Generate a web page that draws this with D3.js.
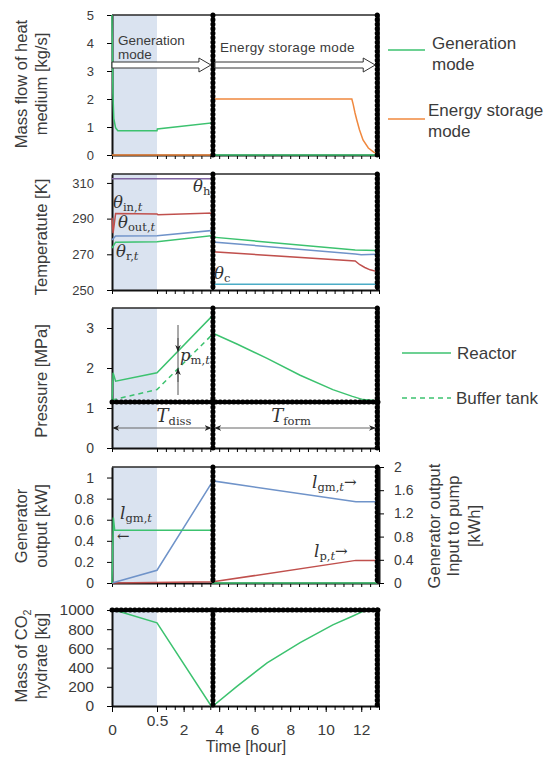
<!DOCTYPE html>
<html>
<head>
<meta charset="utf-8">
<script src="https://cdn.jsdelivr.net/npm/d3@7"></script>
<style>
body { margin: 0; background: #fff; }
svg text { font-family: 'Liberation Sans', Arial, sans-serif; fill: #3b3b3b; }
svg text.math { font-family: 'DejaVu Serif', 'Liberation Serif', serif; fill: #333; }
</style>
</head>
<body>
<svg id="chart" width="548" height="758"></svg>
<script>
// time axis [hour]
const hourTicks = [0, 0.5, 2, 4, 6, 8, 10, 12]
const genEnd = 3.65
const cycleEnd = 12.9

// mass flow of heat medium [kg/s]
const flowGenT = [0, 0.01, 0.02, 0.04, 0.065, 0.5, 0.52, 3.65, 3.65, 12.9]
const flowGenV = [5, 2.2, 1.3, 0.97, 0.87, 0.87, 0.93, 1.15, 0, 0]
const flowStoT = [0, 3.65, 3.65, 11.47, 11.55, 11.65, 11.75, 11.9, 12.1, 12.4, 12.7, 12.9]
const flowStoV = [0, 0, 2, 2, 1.8, 1.5, 1.25, 0.9, 0.54, 0.25, 0.1, 0.05]
const flowTicks = [0, 1, 2, 3, 4, 5]

// temperature [K]
const thetaHT = [0, 3.65]
const thetaHV = [312.3, 312.3]
const thetaInT = [0, 0.012, 0.04, 0.5, 0.55, 3.65, 3.65, 11.66, 11.9, 12.2, 12.5, 12.9]
const thetaInV = [290.5, 281.8, 292.8, 292.6, 292.2, 293.2, 271.4, 266.3, 264.3, 262.6, 261.3, 260.3]
const thetaOutT = [0, 0.04, 0.5, 3.65, 3.65, 11.66, 12.0, 12.9]
const thetaOutV = [278, 280.3, 280.4, 283.4, 276.9, 270.2, 269.8, 270]
const thetaRT = [0, 0.04, 0.5, 3.65, 3.65, 11.66, 12.9]
const thetaRV = [273.4, 276.8, 277, 280.5, 279.6, 272.4, 272.2]
const thetaCT = [3.65, 12.9]
const thetaCV = [253.2, 253.2]
const tempTicks = [250, 270, 290, 310]

// pressure [MPa]
const reactorT = [0, 0.012, 0.04, 0.5, 3.65, 3.65, 5, 6.7, 8.56, 10.4, 11.5, 12.1, 12.9]
const reactorV = [1.15, 1.88, 1.67, 1.88, 3.32, 2.87, 2.6, 2.24, 1.82, 1.46, 1.29, 1.21, 1.18]
const bufferT = [0, 0.5, 3.6]
const bufferV = [1.2, 1.46, 2.83]
const baseP = 1.15
const pressTicks = [0, 1, 2, 3]

// generator output [kW] (left) and energy [kWh] (right)
const genKwT = [0, 0.015, 0.03, 3.65, 3.65, 12.9]
const genKwV = [0, 0.62, 0.5, 0.5, 0, 0]
const lgmT = [0, 0.5, 3.65, 11.7, 12.9]
const lgmV = [0, 0.22, 1.76, 1.4, 1.4]
const lpT = [0, 3.65, 11.7, 12.9]
const lpV = [0, 0.02, 0.39, 0.39]
const kwTicks = [0, 0.2, 0.4, 0.6, 0.8, 1]
const kwhTicks = [0, 0.4, 0.8, 1.2, 1.6, 2]

// mass of CO2 hydrate [kg]
const massT = [0, 0.1, 0.5, 3.55, 3.65, 5, 6.7, 8.56, 10.4, 11.5, 12.1, 12.4, 12.9]
const massV = [1000, 980, 867, 0, 0, 205, 450, 660, 845, 935, 985, 1000, 1000]
const massTicks = [0, 200, 400, 600, 800, 1000]

const green = '#3cc26f'
const orange = '#f0883e'
const blue = '#6f93c9'
const red = '#c0504d'
const purple = '#8064a2'
const cyan = '#4bacc6'

const svg = d3.select('#chart')
const x = d3.scaleLinear().domain([0, 0.5, 13]).range([112, 157, 379])
const minorTicks = [0].concat(d3.range(1, 27).map(i => i * 0.5))

function panel (top, bottom, domain, ticks, fontSize) {
  const g = svg.append('g')
  const y = d3.scaleLinear().domain(domain).range([bottom, top])

  g.append('rect')
    .attr('x', x(0)).attr('y', top)
    .attr('width', x(0.5) - x(0)).attr('height', bottom - top)
    .attr('fill', '#dae3f0')

  g.append('path')
    .attr('d', 'M' + x(0) + ',' + top + 'H' + x(13) + 'V' + bottom)
    .attr('fill', 'none').attr('stroke', '#2a2a2a').attr('stroke-width', 1.6)

  const ax = g.append('g')
    .attr('transform', 'translate(' + x(0) + ',0)')
    .call(d3.axisLeft(y).tickValues(ticks).tickSize(5).tickSizeOuter(0).tickPadding(13).tickFormat(d3.format('')))
  ax.select('.domain').attr('stroke', '#111').attr('stroke-width', 2)
  ax.selectAll('text').attr('font-size', fontSize)

  const bx = g.append('g')
    .attr('transform', 'translate(0,' + bottom + ')')
    .call(d3.axisBottom(x).tickValues(minorTicks).tickSize(4).tickSizeOuter(0).tickFormat(''))
  bx.select('.domain').attr('stroke', '#111').attr('stroke-width', 2)

  return { g: g, y: y, top: top, bottom: bottom }
}

function series (p, y, ts, vs, color, dash) {
  const line = d3.line().x(d => x(d[0])).y(d => y(d[1]))
  p.g.append('path')
    .datum(d3.zip(ts, vs))
    .attr('d', line)
    .attr('fill', 'none')
    .attr('stroke', color)
    .attr('stroke-width', 1.5)
    .attr('stroke-dasharray', dash || null)
}

// thick beaded boundary line
function bead (g, x1, y1, x2, y2) {
  g.append('line').attr('x1', x1).attr('y1', y1).attr('x2', x2).attr('y2', y2)
    .attr('stroke', '#000').attr('stroke-width', 2.5)
  g.append('line').attr('x1', x1).attr('y1', y1).attr('x2', x2).attr('y2', y2)
    .attr('stroke', '#000').attr('stroke-width', 5)
    .attr('stroke-linecap', 'round').attr('stroke-dasharray', '0.5,4')
}

function modeLines (p) {
  bead(p.g, x(genEnd), p.top, x(genEnd), p.bottom)
  bead(p.g, x(cycleEnd), p.top, x(cycleEnd), p.bottom)
}

function yTitle (lines, xs, cy, size) {
  lines.forEach((t, i) => {
    const txt = svg.append('text')
      .attr('transform', 'translate(' + xs[i] + ',' + cy + ') rotate(-90)')
      .attr('text-anchor', 'middle')
      .attr('dy', '0.35em')
      .attr('font-size', size)
    if (Array.isArray(t)) {
      txt.append('tspan').text(t[0])
      txt.append('tspan').attr('font-size', size * 0.65).attr('dy', '0.35em').text(t[1])
      txt.append('tspan').attr('dy', '-0.23em').text(t[2])
    } else {
      txt.text(t)
    }
  })
}

// symbol with subscript, parts: [main, sub upright, sub italic, suffix]
function mathLabel (g, px, py, main, subUp, subIt, suffix, anchor) {
  const t = g.append('text').attr('class', 'math')
    .attr('x', px).attr('y', py).attr('font-size', 16.5)
    .attr('text-anchor', anchor || 'start')
  t.append('tspan').attr('font-style', 'italic').text(main)
  t.append('tspan').attr('font-size', 11.5).attr('dy', '0.3em').text(subUp)
  if (subIt) t.append('tspan').attr('font-size', 11.5).attr('font-style', 'italic').text(subIt)
  if (suffix) t.append('tspan').attr('dy', '-0.3em').attr('font-size', 15).text(suffix)
  return t
}

function blockArrow (g, x0, x1, yc) {
  const h = 3, hh = 7, hl = 12
  g.append('path')
    .attr('d', 'M' + x0 + ',' + (yc - h) + 'H' + (x1 - hl) + 'V' + (yc - hh) + 'L' + x1 + ',' + yc +
      'L' + (x1 - hl) + ',' + (yc + hh) + 'V' + (yc + h) + 'H' + x0 + 'Z')
    .attr('fill', '#fff').attr('stroke', '#333').attr('stroke-width', 1)
}

// ---------- panel 1: mass flow ----------
const p1 = panel(15, 155, [0, 5], flowTicks, 13)
series(p1, p1.y, flowStoT, flowStoV, orange)
series(p1, p1.y, flowGenT, flowGenV, green)
modeLines(p1)
blockArrow(p1.g, x(0), x(genEnd) - 2, 65)
blockArrow(p1.g, x(genEnd) + 2, x(cycleEnd) - 2, 65)
p1.g.append('text').attr('x', 118).attr('y', 45).attr('font-size', 13.5).text('Generation')
p1.g.append('text').attr('x', 118).attr('y', 59).attr('font-size', 13.5).text('mode')
p1.g.append('text').attr('x', 220).attr('y', 52).attr('font-size', 13.5).attr('letter-spacing', 0.3).text('Energy storage mode')
yTitle(['Mass flow of heat', 'medium [kg/s]'], [21, 41], 84, 16.5)

const leg1 = svg.append('g')
leg1.append('line').attr('x1', 388).attr('x2', 425).attr('y1', 50).attr('y2', 50).attr('stroke', green).attr('stroke-width', 1.5)
leg1.append('text').attr('x', 432).attr('y', 49).attr('font-size', 17).text('Generation')
leg1.append('text').attr('x', 432).attr('y', 70).attr('font-size', 17).text('mode')
leg1.append('line').attr('x1', 388).attr('x2', 425).attr('y1', 119).attr('y2', 119).attr('stroke', orange).attr('stroke-width', 1.5)
leg1.append('text').attr('x', 428).attr('y', 116).attr('font-size', 17).text('Energy storage')
leg1.append('text').attr('x', 428).attr('y', 137).attr('font-size', 17).text('mode')

// ---------- panel 2: temperature ----------
const p2 = panel(174, 290, [250, 315], tempTicks, 13)
series(p2, p2.y, thetaHT, thetaHV, purple)
series(p2, p2.y, thetaCT, thetaCV, cyan)
series(p2, p2.y, thetaInT, thetaInV, red)
series(p2, p2.y, thetaOutT, thetaOutV, blue)
series(p2, p2.y, thetaRT, thetaRV, green)
modeLines(p2)
mathLabel(p2.g, 193, 192, 'θ', 'h')
mathLabel(p2.g, 113, 208, 'θ', 'in,', 't')
mathLabel(p2.g, 118, 228, 'θ', 'out,', 't')
mathLabel(p2.g, 116, 257, 'θ', 'r,', 't')
mathLabel(p2.g, 214, 279, 'θ', 'c')
yTitle(['Temperatute [K]'], [41], 237, 16.5)

// ---------- panel 3: pressure ----------
const p3 = panel(308, 448, [0, 3.5], pressTicks, 14)
series(p3, p3.y, bufferT, bufferV, green, '5,4')
series(p3, p3.y, reactorT, reactorV, green)
modeLines(p3)
bead(p3.g, x(0), p3.y(baseP), x(13), p3.y(baseP))

const defs = svg.append('defs')
defs.append('marker').attr('id', 'head').attr('viewBox', '0 0 10 10')
  .attr('refX', 9).attr('refY', 5).attr('markerWidth', 7).attr('markerHeight', 7)
  .attr('orient', 'auto-start-reverse')
  .append('path').attr('d', 'M0,1L10,5L0,9L3,5Z').attr('fill', '#222')

const pmX = 178
p3.g.append('line').attr('x1', pmX).attr('x2', pmX).attr('y1', 325).attr('y2', 395)
  .attr('stroke', '#555').attr('stroke-width', 1)
p3.g.append('line').attr('x1', pmX).attr('x2', pmX).attr('y1', 338).attr('y2', p3.y(2.42))
  .attr('stroke', '#555').attr('stroke-width', 1).attr('marker-end', 'url(#head)')
p3.g.append('line').attr('x1', pmX).attr('x2', pmX).attr('y1', 382).attr('y2', p3.y(1.98))
  .attr('stroke', '#555').attr('stroke-width', 1).attr('marker-end', 'url(#head)')
mathLabel(p3.g, 180, 361, 'p', 'm,', 't')

const arrowY = 428
p3.g.append('line').attr('x1', x(0) + 1).attr('x2', x(genEnd) - 2).attr('y1', arrowY).attr('y2', arrowY)
  .attr('stroke', '#666').attr('stroke-width', 1)
  .attr('marker-start', 'url(#head)').attr('marker-end', 'url(#head)')
p3.g.append('line').attr('x1', x(genEnd) + 2).attr('x2', x(cycleEnd) - 2).attr('y1', arrowY).attr('y2', arrowY)
  .attr('stroke', '#666').attr('stroke-width', 1)
  .attr('marker-start', 'url(#head)').attr('marker-end', 'url(#head)')
mathLabel(p3.g, 174, 422, 'T', 'diss', null, null, 'middle').attr('font-size', 18)
mathLabel(p3.g, 291, 422, 'T', 'form', null, null, 'middle').attr('font-size', 18)
yTitle(['Pressure [MPa]'], [41], 381, 16.5)

const leg3 = svg.append('g')
leg3.append('line').attr('x1', 402).attr('x2', 451).attr('y1', 353).attr('y2', 353).attr('stroke', green).attr('stroke-width', 1.5)
leg3.append('text').attr('x', 457).attr('y', 359).attr('font-size', 17).text('Reactor')
leg3.append('line').attr('x1', 402).attr('x2', 451).attr('y1', 398).attr('y2', 398).attr('stroke', green).attr('stroke-width', 1.5).attr('stroke-dasharray', '5,4')
leg3.append('text').attr('x', 456).attr('y', 404).attr('font-size', 17).text('Buffer tank')

// ---------- panel 4: generator output ----------
const p4 = panel(467, 583, [0, 1.1], kwTicks, 14)
const y4r = d3.scaleLinear().domain([0, 2]).range([583, 467])
series(p4, y4r, lpT, lpV, red)
series(p4, y4r, lgmT, lgmV, blue)
series(p4, p4.y, genKwT, genKwV, green)
modeLines(p4)
const rx = p4.g.append('g')
  .attr('transform', 'translate(' + x(13) + ',0)')
  .call(d3.axisRight(y4r).tickValues(kwhTicks).tickSize(5).tickSizeOuter(0).tickPadding(10).tickFormat(d3.format('')))
rx.select('.domain').attr('stroke', '#111').attr('stroke-width', 2)
rx.selectAll('text').attr('font-size', 14)
mathLabel(p4.g, 120, 519, 'l', 'gm,', 't').attr('font-size', 17)
p4.g.append('text').attr('class', 'math').attr('x', 117).attr('y', 541).attr('font-size', 15).text('←')
mathLabel(p4.g, 312, 488, 'l', 'gm,', 't', '→').attr('font-size', 17)
mathLabel(p4.g, 314, 557, 'l', 'p,', 't', '→').attr('font-size', 17)
yTitle(['Generator', 'output [kW]'], [21, 41], 526, 16.5)
yTitle(['Generator output', 'Input to pump', '[kWh]'], [434, 453, 474], 526, 16.5)

// ---------- panel 5: mass of CO2 hydrate ----------
const p5 = panel(610, 706, [0, 1000], massTicks, 15.5)
series(p5, p5.y, massT, massV, green)
modeLines(p5)
bead(p5.g, x(0), p5.y(1000), x(13), p5.y(1000))
const tx = p5.g.append('g')
  .attr('transform', 'translate(0,706)')
  .call(d3.axisBottom(x).tickValues(hourTicks).tickSize(6).tickSizeOuter(0).tickPadding(12).tickFormat(d3.format('')))
tx.select('.domain').remove()
tx.selectAll('text').attr('font-size', 15.5)
  .attr('dy', d => d === 0.5 ? '0.1em' : '0.71em')
yTitle([['Mass of CO', '2', ''], 'hydrate [kg]'], [21, 41], 656, 16.5)
svg.append('text').attr('x', 246).attr('y', 752).attr('text-anchor', 'middle').attr('font-size', 16).text('Time [hour]')
</script>
</body>
</html>
